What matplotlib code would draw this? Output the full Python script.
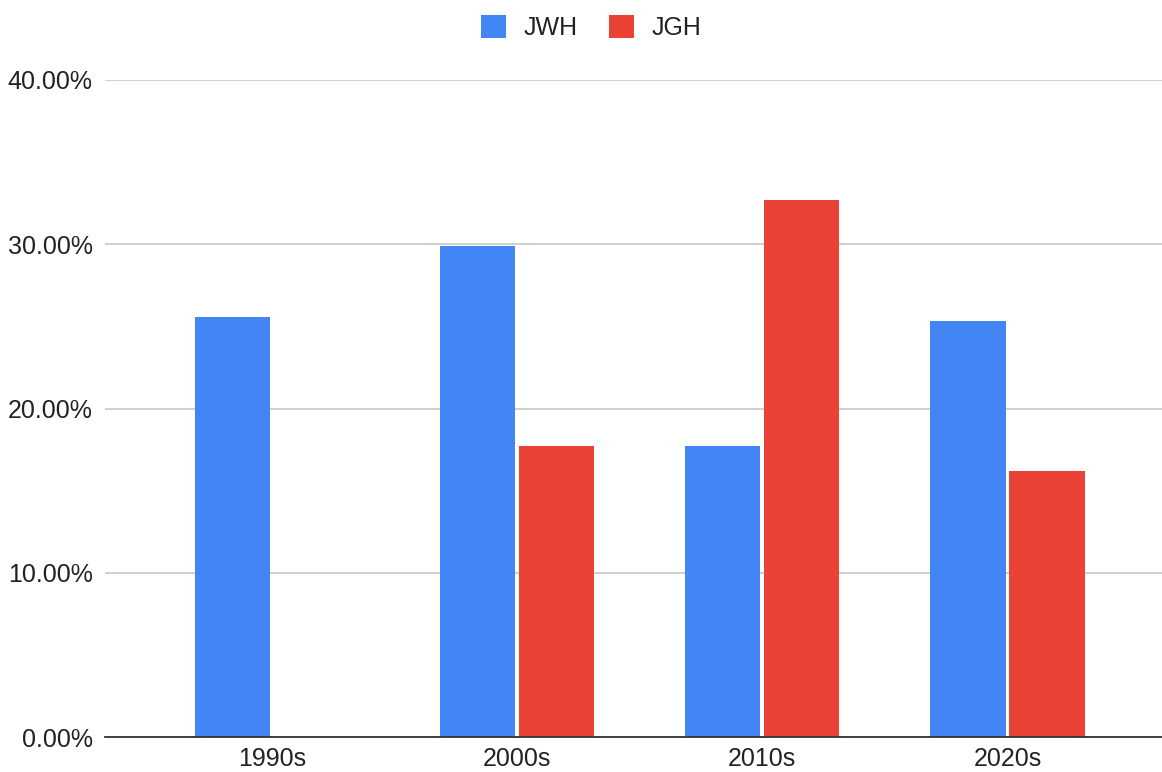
import matplotlib.pyplot as plt
import numpy as np
from matplotlib.patches import Patch

plt.rcParams['font.family'] = ['Liberation Sans', 'DejaVu Sans']

decades = ['1990s', '2000s', '2010s', '2020s']
jwh = [0.2557, 0.2988, 0.1770, 0.2533]
jgh = [np.nan, 0.1770, 0.3268, 0.1618]
yticks = [0.0, 0.1, 0.2, 0.3, 0.4]

blue = '#4285f4'
red = '#ea4335'

fig = plt.figure(figsize=(11.62, 7.72), dpi=100)
ax = fig.add_axes([0.0904, 0.0453, 0.9096, 0.8511])

x = np.arange(len(decades))
w = 0.306
gap = 0.008
ax.bar(x - w / 2 - gap, jwh, width=w, color=blue, zorder=3)
ax.bar(x + w / 2 + gap, jgh, width=w, color=red, zorder=3)

ax.set_xlim(-0.68, len(decades) - 0.37)
ax.set_ylim(0, 0.4)
ax.set_yticks(yticks)
ax.set_yticklabels(['%.2f%%' % (t * 100) for t in yticks])
ax.set_xticks(x)
ax.set_xticklabels(decades)
ax.tick_params(axis='both', length=0, labelsize=18, colors='#222222')
ax.tick_params(axis='y', pad=9)
ax.tick_params(axis='x', pad=7)

ax.grid(axis='y', color='#cccccc', linewidth=1.3, zorder=0)
for s in ['top', 'right', 'left']:
    ax.spines[s].set_visible(False)
ax.spines['bottom'].set_color('#333333')
ax.spines['bottom'].set_linewidth(1.3)
ax.spines['bottom'].set_zorder(4)

handles = [Patch(facecolor=blue, label='JWH'), Patch(facecolor=red, label='JGH')]
fig.legend(handles=handles, loc='center', bbox_to_anchor=(0.509, 0.964), ncol=2,
           frameon=False, fontsize=18, handlelength=1.0, handleheight=1.0,
           columnspacing=1.26, handletextpad=0.7, labelcolor='#222222')

fig.savefig('out.png', dpi=100, facecolor='white')
